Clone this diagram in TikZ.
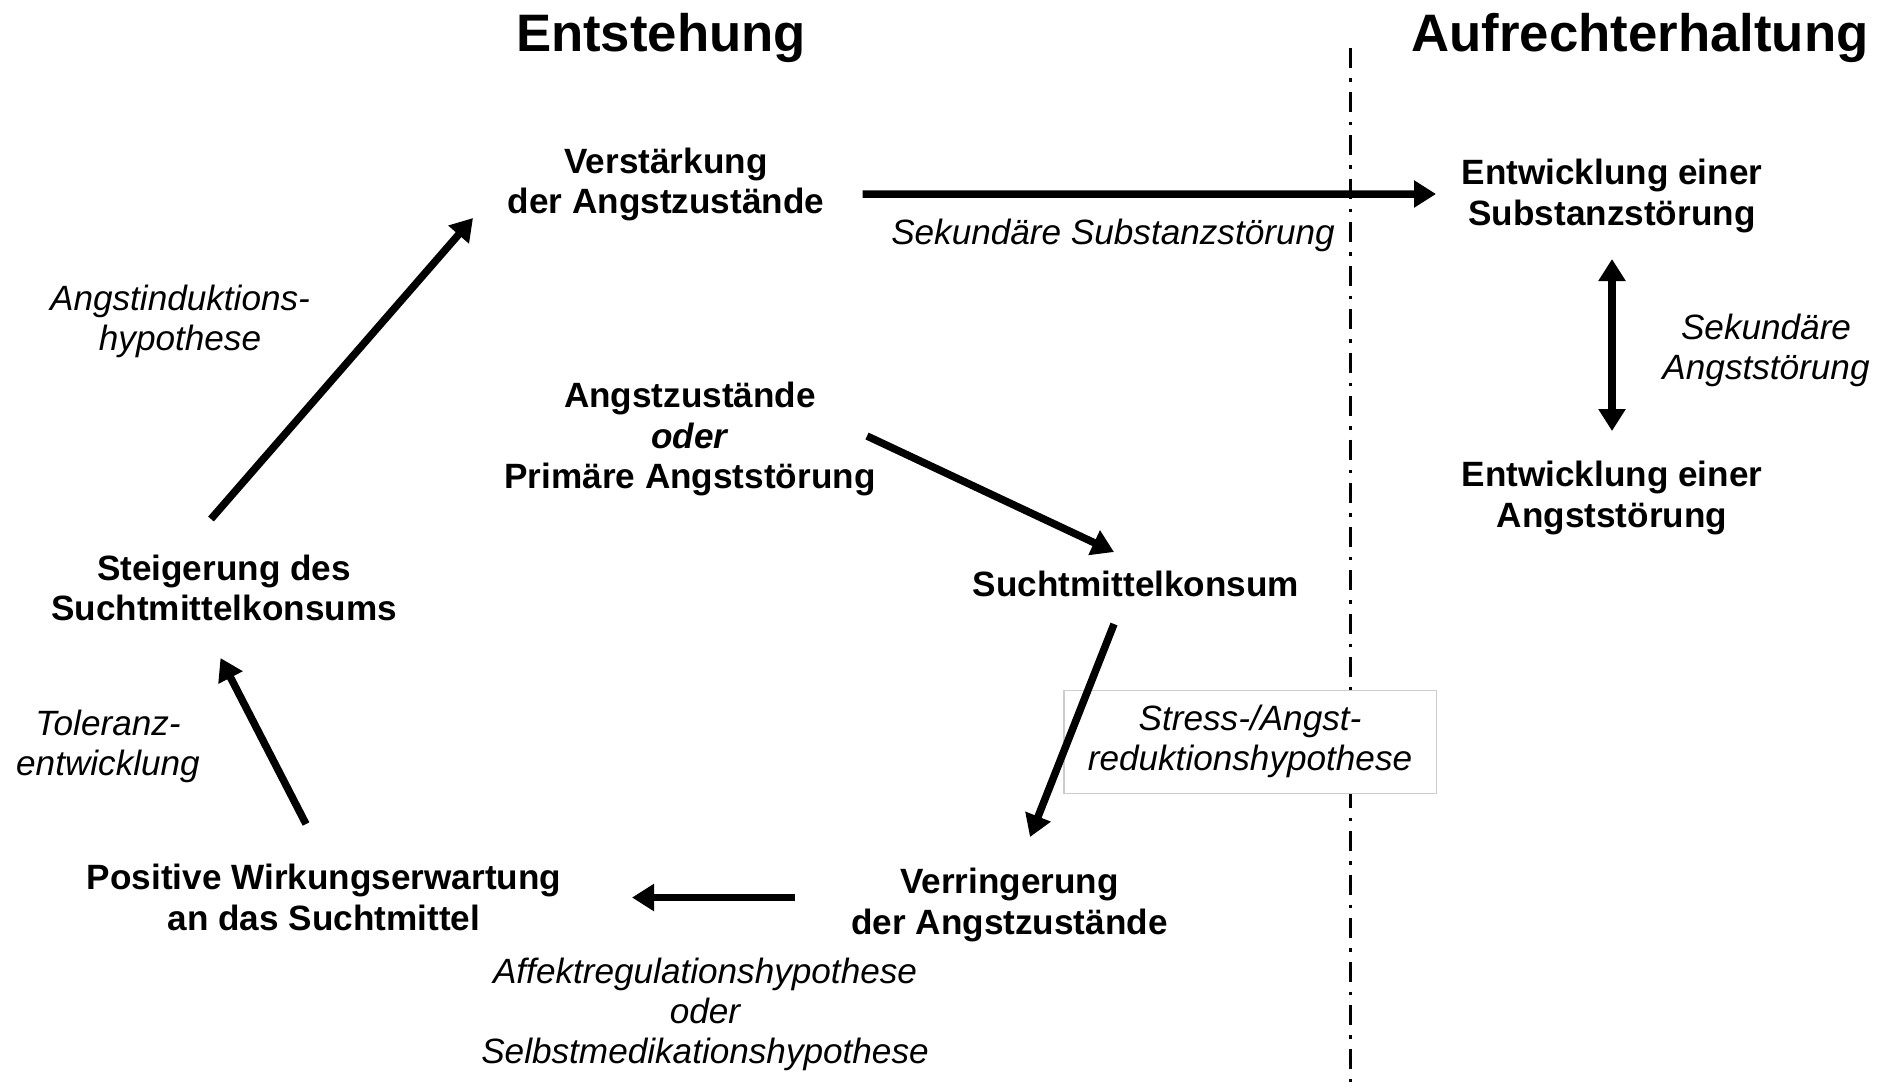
\documentclass[tikz,border=0pt]{standalone}
\usepackage{fontspec}
\setmainfont{Liberation Sans}
\usetikzlibrary{arrows.meta}
\tikzset{>/.tip={Triangle[length=2.2mm,width=2.6mm]},
  stage/.style={align=center,inner sep=0pt,font=\fontsize{10}{11.6}\selectfont\bfseries},
  hypo/.style={align=center,inner sep=0pt,font=\fontsize{10}{11.4}\selectfont\itshape},
  heading/.style={inner sep=0pt,font=\fontsize{15}{18}\selectfont\bfseries},
  arr/.style={->,line width=0.75mm},
  divider/.style={line width=0.35mm,dash pattern=on 2mm off 1mm on 0.35mm off 1mm}}

\begin{document}
\begin{tikzpicture}
\useasboundingbox (0,0) rectangle (18.89,-10.90);

\node[heading] (entstehung) at (6.61,-0.375) {Entstehung};
\node[heading] (aufrecht) at (16.40,-0.375) {Aufrechterhaltung};
\coordinate (div-top) at (13.505,-0.48);
\coordinate (div-bot) at (13.505,-10.90);
\draw[divider] (div-top) -- (div-bot);

\node[stage] (verst) at (6.66,-1.845) {Verstärkung\\der Angstzustände};
\node[stage] (entw-sub) at (16.12,-1.96) {Entwicklung einer\\Substanzstörung};
\node[stage] (entw-angst) at (16.12,-4.98) {Entwicklung einer\\Angststörung};
\node[stage] (angst) at (6.90,-4.39) {Angstzustände\\\textit{oder}\\Primäre Angststörung};
\node[stage] (konsum) at (11.36,-5.84) {Suchtmittelkonsum};
\node[stage] (verr) at (10.095,-9.05) {Verringerung\\der Angstzustände};
\node[stage] (erwart) at (3.24,-8.975) {Positive Wirkungserwartung\\an das Suchtmittel};
\node[stage] (steig) at (2.24,-5.88) {Steigerung des\\Suchtmittelkonsums};

\node[hypo] (h-subst) at (11.13,-2.35) {Sekundäre Substanzstörung};
\node[hypo] (h-angst) at (17.66,-3.50) {Sekundäre\\Angststörung};
\node[hypo] (h-induk) at (1.80,-3.21) {Angstinduktions-\\hypothese};
\node[hypo,draw=gray!40,line width=0.3pt,fill=white,minimum width=3.72cm,minimum height=1.03cm]
  (h-stress) at (12.50,-7.415) {Stress-/Angst-\\reduktionshypothese};
\node[hypo] (h-affekt) at (7.05,-10.145) {Affektregulationshypothese\\oder\\Selbstmedikationshypothese};
\node[hypo] (h-toler) at (1.08,-7.46) {Toleranz-\\entwicklung};

\path[arr] ([shift={(1.965,-0.095)}]verst.center) edge ([shift={(-1.76,0.02)}]entw-sub.center);
\path[arr,<->] ([yshift=-6.3mm]entw-sub.center) edge ([yshift=6.7mm]entw-angst.center);
\path[arr] ([shift={(-0.13,0.69)}]steig.center) edge ([shift={(-1.93,-0.335)}]verst.center);
\path[arr] ([shift={(1.77,0.03)}]angst.center) edge ([shift={(-0.22,0.32)}]konsum.center);
\path[arr] ([shift={(-0.22,-0.40)}]konsum.center) edge ([shift={(0.205,0.68)}]verr.center);
\path[arr] ([shift={(-2.145,0.075)}]verr.center) edge ([shift={(3.08,0)}]erwart.center);
\path[arr] ([shift={(-0.18,0.735)}]erwart.center) edge ([shift={(-0.035,-0.70)}]steig.center);
\end{tikzpicture}
\end{document}
